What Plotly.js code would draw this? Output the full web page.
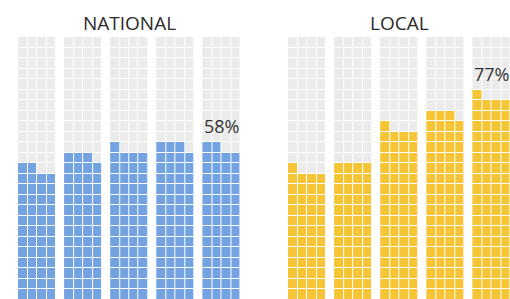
<!DOCTYPE html>
<html>
<head>
<meta charset="utf-8">
<script src="https://cdn.plot.ly/plotly-3.0.1.min.js"></script>
<style>html,body{margin:0;padding:0;background:#fff;}#chart{width:510px;height:299px;}</style>
</head>
<body>
<div id="chart"></div>
<script>
// Data
const panelTitles = ['NATIONAL', 'LOCAL'];
const nationalValues = [50, 55, 57, 59, 58];
const localValues = [49, 52, 65, 71, 77];
const panelColors = ['#73a3e1', '#f6c535'];

// Layout constants (pixels)
const W = 510, H = 299;
const cellW = 9.5, rowH = 10.5, gridTop = 37;
const groupPitch = 46.1;
const panelStart = [18, 288];
const nRows = 25, nCols = 4;
const emptyColor = '#ebebeb';

const traces = [];
const annotations = [];
[nationalValues, localValues].forEach((vals, p) => {
  vals.forEach((v, g) => {
    const x0 = panelStart[p] + g * groupPitch;
    const xs = [];
    for (let c = 0; c < nCols; c++) xs.push(x0 + c * cellW + cellW / 2);
    const ys = [], z = [];
    for (let k = 0; k < nRows; k++) {
      ys.push(k);
      const row = [];
      for (let c = 0; c < nCols; c++) row.push(k * nCols + c < v ? 1 : 0);
      z.push(row);
    }
    traces.push({
      type: 'heatmap', x: xs, y: ys, z: z, zmin: 0, zmax: 1,
      xgap: 1, ygap: 1, showscale: false, hoverinfo: 'skip',
      colorscale: [[0, emptyColor], [0.5, emptyColor], [0.5, panelColors[p]], [1, panelColors[p]]]
    });
    if (g === vals.length - 1) {
      annotations.push({
        x: x0 + cellW * nCols / 2, y: Math.ceil(v / nCols) - 0.5,
        xref: 'x', yref: 'y', text: v + '%', showarrow: false,
        xanchor: 'center', yanchor: 'bottom', yshift: 2,
        font: {family: 'Open Sans', size: 18, color: '#333'}
      });
    }
  });
  const cx = panelStart[p] + (4 * groupPitch + cellW * nCols) / 2;
  annotations.push({
    x: cx, y: 1 - 23 / H, xref: 'x', yref: 'paper',
    text: panelTitles[p], showarrow: false, xanchor: 'center', yanchor: 'middle',
    font: {family: 'Open Sans', size: 19, color: '#2a2a2a'}
  });
});

// y axis: row k center at pixel bottom - rowH*(k+0.5)
const bottomPx = gridTop + nRows * rowH;
const yTop = (bottomPx - rowH / 2) / rowH;
const yBot = (bottomPx - rowH / 2 - H) / rowH;

const layout = {
  width: W, height: H,
  margin: {l: 0, r: 0, t: 0, b: 0},
  paper_bgcolor: '#fff', plot_bgcolor: '#fff',
  xaxis: {range: [0, W], visible: false, fixedrange: true},
  yaxis: {range: [yBot, yTop], visible: false, fixedrange: true},
  annotations: annotations,
  showlegend: false
};
Plotly.newPlot('chart', traces, layout, {staticPlot: true, displayModeBar: false});
</script>
</body>
</html>
